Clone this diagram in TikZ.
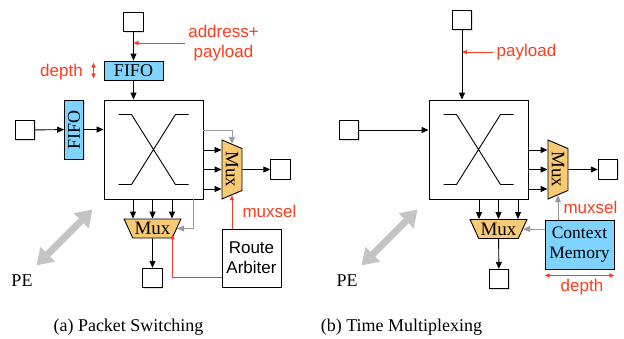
\documentclass[tikz,border=0pt]{standalone}
\usepackage{fontspec}
\setmainfont{Liberation Serif}
\newfontfamily\helv{Liberation Sans}
\usetikzlibrary{arrows.meta,shapes.geometric,shadows}
\definecolor{alert}{HTML}{FF3B1D}
\definecolor{fifoc}{HTML}{7FD3FF}
\definecolor{muxc}{HTML}{F9CA74}
\definecolor{wire}{HTML}{9A9A9A}
\definecolor{pec}{HTML}{C4C4C4}
\tikzset{px/.style={x=1pt,y=-1pt,line width=.9pt,>={Triangle[length=7pt,width=6pt]},font=\fontsize{18}{20}\selectfont},
  shd/.style={drop shadow={shadow xshift=1pt,shadow yshift=-1pt,opacity=.25}},
  port/.style={draw,fill=white,minimum size=19.5pt,inner sep=0pt,shd},
  fifo/.style={draw,fill=fifoc,minimum width=59pt,minimum height=19pt,inner sep=0pt,shd},
  cross/.style={draw,fill=white,minimum size=99pt,inner sep=0pt,shd},
  mux/.style={draw,fill=muxc,trapezium,trapezium stretches=true,inner sep=0pt,font=\fontsize{19}{20}\selectfont},
  muxr/.style={mux,rotate=-90,minimum width=59pt,minimum height=20pt,trapezium angle=60},
  muxb/.style={mux,shape border rotate=180,minimum width=57pt,minimum height=19pt,trapezium angle=58},
  lbl/.style={alert,font=\helv\fontsize{17}{20}\selectfont},
  sel/.style={alert,->,>={Triangle[length=5pt,width=4pt]}},
  gw/.style={wire,->},
  pearr/.style={pec,line width=7pt,{Triangle[width=20pt,length=16pt]}-{Triangle[width=20pt,length=16pt]}}}
\begin{document}
\begin{tikzpicture}[px]
  \useasboundingbox (0,0) rectangle (624,338);
  % (a) packet switching
  \node[port] (ta) at (133.5,22) {};\node[fifo] (fa) at (133.5,70.5) {FIFO};
  \node[port] (la) at (25,130) {};\node[fifo,rotate=90] (fl) at (74,129.5) {FIFO};
  \node[cross] (xa) at (153.5,149.5) {};
  \draw[shift={(xa.center)}] (-35,-35)--(-22,-35)--(22,35)--(35,35) (-35,35)--(-22,35)--(22,-35)--(35,-35);
  \node[muxr] (mra) at (232,169.5) {Mux};\node[muxb] (mba) at (152.5,228.5) {Mux};
  \node[port] (oa) at (280.5,169.5) {};\node[port] (ba) at (152.5,278) {};
  \node[draw,fill=white,shd,minimum width=59pt,minimum height=58pt,align=center,font=\helv\fontsize{17}{20}\selectfont] (arb) at (251.5,258) {Route\\Arbiter};
  \node[lbl,align=center] (adr) at (223.5,43) {address+\\payload};
  \node[lbl] (dpa) at (61.5,72) {depth};\node[lbl] (msa) at (269.5,211) {muxsel};
  \draw[->] (ta)--(fa);\draw[->] (fa)--(fa|-xa.north);
  \draw[->] (la)--(fl);\draw[->] (fl)--(fl-|xa.west);
  \draw[sel] (adr.west)--(adr.west-|ta);
  \draw[sel,<->] ([xshift=-10pt,yshift=-2pt]fa.north west)--([xshift=-10pt,yshift=2pt]fa.south west);
  \foreach \d in {-19.5,0,19.5}{
    \coordinate (p) at ([yshift=\d pt]mra.south);\draw[->] (xa.east|-p)--(p);
    \coordinate (q) at ([xshift=\d pt]mba.north);\draw[->] (xa.south-|q)--(q);}
  \draw[->] (mra.north)--(oa);\draw[->] (mba)--(ba);
  \draw[gw] ([yshift=19.5pt]xa.east) -| (mra.west);
  \draw[gw] ([xshift=-10pt]xa.south east) |- (mba.east);
  \draw[sel] (arb.north-|mra.east)--(mra.east);
  \draw[sel] ([yshift=-19pt]arb.west) -| ([xshift=20pt,yshift=4pt]mba.south);
  \coordinate (pua) at ([shift={(-11,10)}]xa.south west);\coordinate (pda) at ([shift={(-67,66)}]xa.south west);
  \draw[pearr] (pua)--(pda);
  \node (pea) at (22,281) {PE};
  \node (capa) at (128.5,327) {(a) Packet Switching};
  % (b) time multiplexing
  \node[port] (tb) at (462,20) {};\node[port] (lb) at (349,130) {};
  \node[cross] (xb) at (478.5,149.5) {};
  \draw[shift={(xb.center)}] (-35,-35)--(-22,-35)--(22,35)--(35,35) (-35,35)--(-22,35)--(22,-35)--(35,-35);
  \node[muxr] (mrb) at (558,169.5) {Mux};\node[muxb] (mbb) at (498.5,229) {Mux};
  \node[port] (ob) at (608,169.5) {};\node[port] (bb) at (499,279) {};
  \node[draw,fill=fifoc,shd,minimum width=69pt,minimum height=49pt,align=center,font=\fontsize{17.5}{20}\selectfont] (ctx) at (579.5,244.5) {Context\\Memory};
  \node[lbl] (pl) at (526.5,52) {payload};
  \node[lbl] (msb) at (590.5,207) {muxsel};\node[lbl] (dpb) at (582,287) {depth};
  \draw[->] (tb)--(tb|-xb.north);\draw[->] (lb)--(lb-|xb.west);
  \draw[sel] (pl.west)--(pl.west-|tb);
  \foreach \d in {-19.5,0,19.5}{
    \coordinate (p) at ([yshift=\d pt]mrb.south);\draw[->] (xb.east|-p)--(p);
    \coordinate (q) at ([xshift=\d pt]mbb.north);\draw[->] (xb.south-|q)--(q);}
  \draw[->] (mrb.north)--(ob);\draw[->] (mbb)--(bb);
  \draw[gw] (ctx.north-|mrb.east)--(mrb.east);
  \draw[gw,<-] (mbb.east)--(mbb.east-|ctx.west);
  \draw[sel,<->] ([yshift=-6pt]ctx.south west)--([yshift=-6pt]ctx.south east);
  \coordinate (pub) at ([shift={(-11,10)}]xb.south west);\coordinate (pdb) at ([shift={(-67,66)}]xb.south west);
  \draw[pearr] (pub)--(pdb);
  \node (peb) at (347,281) {PE};
  \node (capb) at (401.5,327) {(b) Time Multiplexing};
\end{tikzpicture}
\end{document}
